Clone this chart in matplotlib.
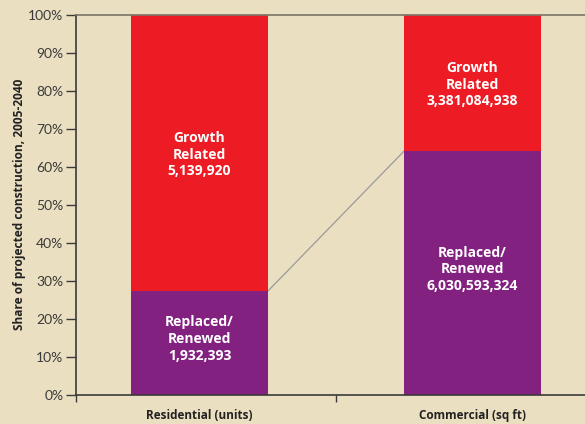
import matplotlib.pyplot as plt
import numpy as np

# === Data =====================================================================
categories = ['Residential (units)', 'Commercial (sq ft)']
replaced = [1932393, 6030593324]
growth = [5139920, 3381084938]
seg_names = ['Replaced/\nRenewed', 'Growth\nRelated']
y_ticks = [0, 10, 20, 30, 40, 50, 60, 70, 80, 90, 100]

# === Style ====================================================================
BG = '#ebdfc1'
RED = '#ed1c24'
PURPLE = '#832181'
AXIS = '#3a3a3a'
BOLD_FONT = ['Open Sans', 'DejaVu Sans']
plt.rcParams['font.family'] = ['Lato', 'DejaVu Sans']

totals = np.array(replaced, dtype=float) + np.array(growth, dtype=float)
rep_pct = np.array(replaced) / totals * 100
gro_pct = np.array(growth) / totals * 100

fig = plt.figure(figsize=(5.85, 4.24), dpi=100, facecolor=BG)
ax = fig.add_axes([76 / 585, 1 - 395 / 424, (585 - 76) / 585, (395 - 14.5) / 424])
ax.set_facecolor(BG)

x = np.arange(len(categories))
width = 0.502
ax.bar(x, rep_pct, width, color=PURPLE, zorder=2)
ax.bar(x, gro_pct, width, bottom=rep_pct, color=RED, zorder=2)

# connector between the tops of the purple segments
ax.plot([x[0] + width / 2, x[1] - width / 2], [rep_pct[0], rep_pct[1]],
        color='#9a9a9a', lw=0.9, zorder=1)

for i in range(len(categories)):
    ax.text(x[i], rep_pct[i] / 2 + 1, '{}\n{:,}'.format(seg_names[0], replaced[i]),
            ha='center', va='center', color='white', fontsize=10,
            fontweight='bold', linespacing=1.25, family=BOLD_FONT)
    ax.text(x[i], rep_pct[i] + gro_pct[i] / 2 - 0.5, '{}\n{:,}'.format(seg_names[1], growth[i]),
            ha='center', va='center', color='white', fontsize=10,
            fontweight='bold', linespacing=1.25, family=BOLD_FONT)

ax.set_xlim(-0.452, 1.412)
ax.set_ylim(0, 100)
ax.set_yticks(y_ticks)
ax.set_yticklabels(['{}%'.format(t) for t in y_ticks])
ax.set_xticks([-0.452, 0.5])
ax.set_xticklabels([])
ax.set_xticks(x, minor=True)
ax.set_xticklabels(categories, minor=True, fontsize=8.5, fontweight='bold',
                   color='#222222', family=BOLD_FONT)
ax.tick_params(axis='x', which='minor', length=0, pad=10)
ax.tick_params(axis='x', which='major', length=5, direction='out', color=AXIS, width=1)
ax.tick_params(axis='y', length=7, direction='out', color=AXIS, width=1,
               labelsize=10, labelcolor='#3a3a3a', pad=2)

ax.spines['right'].set_visible(False)
ax.spines['top'].set_color('#7a7468')
ax.spines['top'].set_linewidth(1.2)
for s in ['left', 'bottom']:
    ax.spines[s].set_color(AXIS)
    ax.spines[s].set_linewidth(1.2)

fig.text(20 / 585, 1 - 204 / 424, 'Share of projected construction, 2005-2040',
         rotation=90, ha='center', va='center', fontsize=8.6, fontweight='bold',
         color='#222222', family=BOLD_FONT)

fig.savefig('out.png', dpi=100, facecolor=BG)
